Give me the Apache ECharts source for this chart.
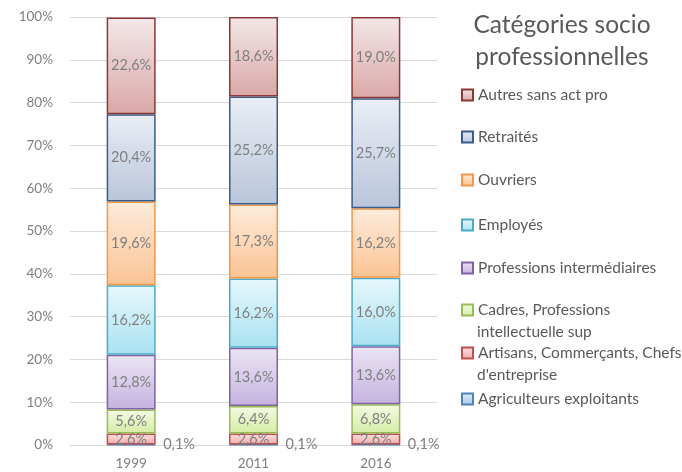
<!DOCTYPE html>
<html><head><meta charset="utf-8">
<script src="https://cdn.jsdelivr.net/npm/echarts@6/dist/echarts.min.js"></script>
<style>html,body{margin:0;padding:0;background:#fff}#c{width:682px;height:472px}</style>
</head><body><div id="c"></div>
<script>
const categories = ['1999', '2011', '2016'];
const seriesNames = ['Agriculteurs exploitants', "Artisans, Commerçants, Chefs d'entreprise", 'Cadres, Professions intellectuelle sup', 'Professions intermédiaires', 'Employés', 'Ouvriers', 'Retraités', 'Autres sans act pro'];
const agriculteurs = [0.1, 0.1, 0.1];
const artisans = [2.6, 2.6, 2.6];
const cadres = [5.6, 6.4, 6.8];
const profInter = [12.8, 13.6, 13.6];
const employes = [16.2, 16.2, 16.0];
const ouvriers = [19.6, 17.3, 16.2];
const retraites = [20.4, 25.2, 25.7];
const autres = [22.6, 18.6, 19.0];
const yTicks = [0, 10, 20, 30, 40, 50, 60, 70, 80, 90, 100];

const values = [agriculteurs, artisans, cadres, profInter, employes, ouvriers, retraites, autres];
const styles = [
  {border:'#4f81bd', top:'#e3ecf8', bot:'#a9c3e6'},
  {border:'#c0504d', top:'#fbe3e3', bot:'#f3a9a7'},
  {border:'#9bbb59', top:'#f4fae4', bot:'#d5eca5'},
  {border:'#8064a2', top:'#ebe5f4', bot:'#c4b3df'},
  {border:'#4bacc6', top:'#e6f7fc', bot:'#a9e2f1'},
  {border:'#f79646', top:'#fdecdc', bot:'#fbc393'},
  {border:'#385d8a', top:'#eaeef5', bot:'#b9c5da'},
  {border:'#8c3836', top:'#f3e8e8', bot:'#d9a8a7'}
];
const legendFirstLines = ['Agriculteurs exploitants', 'Artisans, Commerçants, Chefs', 'Cadres, Professions', 'Professions intermédiaires', 'Employés', 'Ouvriers', 'Retraités', 'Autres sans act pro'];
const legendSecondLines = [null, "d'entreprise", 'intellectuelle sup', null, null, null, null, null];
const legendCenters = [399, 353, 310, 268, 225, 180, 137, 95];

const FONT = 'Lato';
const LFS = 15.5;
const series = seriesNames.map((n, i) => ({
  name: n, type: 'bar', stack: 'total', barWidth: 49,
  data: values[i],
  itemStyle: {
    borderColor: styles[i].border, borderWidth: 1.5,
    color: {type:'linear', x:0, y:0, x2:0, y2:1, colorStops:[{offset:0,color:styles[i].top},{offset:1,color:styles[i].bot}]}
  },
  label: {
    show: true,
    position: i === 0 ? 'right' : 'inside',
    distance: 7,
    color: '#7f7f7f', fontFamily: FONT, fontSize: 14.5,
    formatter: p => p.value.toFixed(1).replace('.', ',') + '%'
  }
}));

const legends = seriesNames.map((n, i) => ({
  data: [n], left: 456, top: legendCenters[i] - 15, orient: 'vertical',
  icon: 'rect', itemWidth: 11, itemHeight: 11,
  formatter: () => legendFirstLines[i],
  textStyle: {color: '#595959', fontFamily: FONT, fontSize: LFS, lineHeight: 20},
  selectedMode: false
}));

const titles = [
  {text: 'Catégories socio\nprofessionnelles', left: 557, top: 4, textAlign: 'center',
   textStyle: {color: '#595959', fontFamily: FONT, fontSize: 24.5, fontWeight: 'normal', lineHeight: 32}}
];
legendSecondLines.forEach((t, i) => {
  if (t) titles.push({text: t, left: 477, top: legendCenters[i] + 22 - 10, padding: 0,
    textStyle: {color: '#595959', fontFamily: FONT, fontSize: LFS, fontWeight: 'normal', lineHeight: 20}});
});

const chart = echarts.init(document.getElementById('c'), null, {renderer: 'canvas'});
chart.setOption({
  animation: false,
  title: titles,
  legend: legends,
  grid: {left: 70, right: 245, top: 17, bottom: 27},
  xAxis: {
    type: 'category', data: categories,
    axisLine: {lineStyle: {color: '#d9d9d9'}}, axisTick: {show: false},
    axisLabel: {color: '#7f7f7f', fontFamily: FONT, fontSize: 13.5, margin: 12}
  },
  yAxis: {
    type: 'value', min: yTicks[0], max: yTicks[yTicks.length-1], interval: 10,
    axisLine: {show: false}, axisTick: {show: false},
    splitLine: {lineStyle: {color: '#d9d9d9', width: 1}},
    axisLabel: {color: '#7f7f7f', fontFamily: FONT, fontSize: 13.5, margin: 17, formatter: '{value}%'}
  },
  series: series
});
</script></body></html>
